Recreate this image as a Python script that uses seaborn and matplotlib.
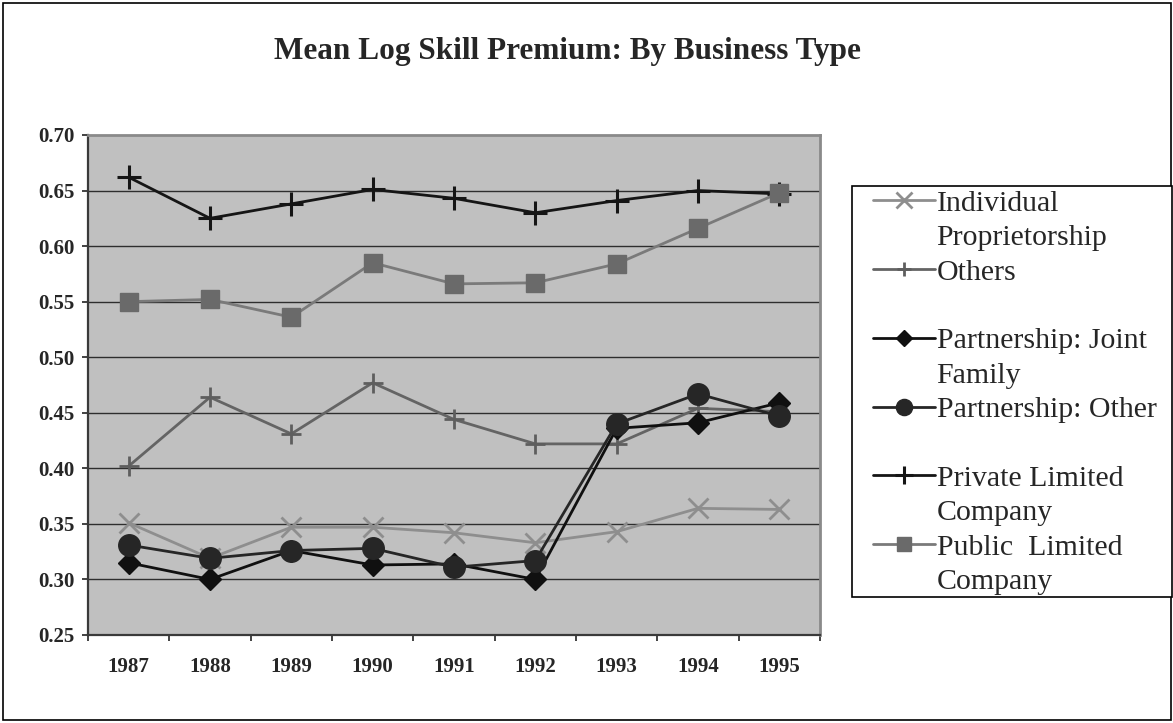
import matplotlib
matplotlib.use("Agg")
import matplotlib.pyplot as plt
from matplotlib.lines import Line2D
from matplotlib.patches import Rectangle
from matplotlib.ticker import FixedLocator, FormatStrFormatter
import numpy as np
import pandas as pd
import seaborn as sns

# ---- data -------------------------------------------------------------
years = [1987, 1988, 1989, 1990, 1991, 1992, 1993, 1994, 1995]

individual_proprietorship = [0.351, 0.319, 0.347, 0.347, 0.342, 0.333, 0.343, 0.364, 0.363]
others = [0.402, 0.464, 0.431, 0.477, 0.444, 0.422, 0.422, 0.454, 0.451]
partnership_joint_family = [0.315, 0.300, 0.326, 0.313, 0.314, 0.300, 0.436, 0.441, 0.459]
partnership_other = [0.331, 0.319, 0.326, 0.328, 0.311, 0.317, 0.440, 0.467, 0.447]
private_limited = [0.662, 0.625, 0.638, 0.651, 0.643, 0.630, 0.641, 0.650, 0.647]
public_limited = [0.550, 0.552, 0.536, 0.585, 0.566, 0.567, 0.584, 0.616, 0.648]

series_names = [
    "Individual Proprietorship",
    "Others",
    "Partnership: Joint Family",
    "Partnership: Other",
    "Private Limited Company",
    "Public  Limited Company",
]
legend_lines = [
    ("Individual", "Proprietorship"),
    ("Others", " "),
    ("Partnership: Joint", "Family"),
    ("Partnership: Other", " "),
    ("Private Limited", "Company"),
    ("Public  Limited", "Company"),
]
y_ticks = [0.25, 0.30, 0.35, 0.40, 0.45, 0.50, 0.55, 0.60, 0.65, 0.70]
title = "Mean Log Skill Premium: By Business Type"

values = [individual_proprietorship, others, partnership_joint_family,
          partnership_other, private_limited, public_limited]
df = pd.DataFrame({
    "year": np.tile(years, len(series_names)),
    "premium": np.concatenate(values),
    "type": np.repeat(series_names, len(years)),
})

# ---- styles per business type -------------------------------------------
styles = {
    "Individual Proprietorship": dict(color="#8e8e8e", marker="x", markersize=15, mew=2.0),
    "Others": dict(color="#5e5e5e", marker="+", markersize=14, mew=2.0),
    "Partnership: Joint Family": dict(color="#101010", marker="D", markersize=11.5, mew=1.0),
    "Partnership: Other": dict(color="#262626", marker="o", markersize=15.5, mew=1.0),
    "Private Limited Company": dict(color="#151515", marker="+", markersize=17, mew=2.2),
    "Public  Limited Company": dict(color="#6a6a6a", marker="s", markersize=13, mew=1.0),
}
line_colors = {
    "Individual Proprietorship": "#8e8e8e",
    "Others": "#646464",
    "Partnership: Joint Family": "#101010",
    "Partnership: Other": "#262626",
    "Private Limited Company": "#151515",
    "Public  Limited Company": "#7a7a7a",
}

sns.set_style("white")
plt.rcParams["font.family"] = ["Liberation Serif", "DejaVu Serif"]

W, H = 1173, 723
fig = plt.figure(figsize=(W / 100, H / 100), dpi=100)
ax = fig.add_axes([88 / W, 1 - 635 / H, (820 - 88) / W, (635 - 135) / H])
ax.set_facecolor("#c0c0c0")

# horizontal gridlines
for yv in y_ticks[1:-1]:
    ax.axhline(yv, color="#2e2e2e", lw=1.0, zorder=1)

handles = []
for name in series_names:
    st = styles[name]
    sub = df[df["type"] == name]
    sns.lineplot(data=sub, x="year", y="premium", ax=ax, legend=False,
                 color=line_colors[name], linewidth=2.0,
                 marker=st["marker"], markersize=st["markersize"],
                 markeredgewidth=st["mew"], markeredgecolor=st["color"],
                 markerfacecolor=st["color"], zorder=3)
    handles.append(Line2D([], [], color=line_colors[name], lw=2.0,
                          marker=st["marker"], markersize=st["markersize"] * 0.75,
                          markeredgewidth=st["mew"], markeredgecolor=st["color"],
                          markerfacecolor=st["color"]))

ax.set_xlim(years[0] - 0.5, years[-1] + 0.5)
ax.set_ylim(y_ticks[0], y_ticks[-1])
ax.set_xlabel("")
ax.set_ylabel("")

# axes: year labels centred, tick marks on category boundaries
ax.set_xticks(years)
ax.set_xticklabels([str(y) for y in years])
ax.xaxis.set_minor_locator(FixedLocator(np.arange(years[0] - 0.5, years[-1] + 1.0, 1.0)))
ax.tick_params(axis="x", which="major", length=0, pad=16, labelsize=15)
ax.tick_params(axis="x", which="minor", direction="out", length=4.5, width=1.2,
               color="#222222", bottom=True)
ax.set_yticks(y_ticks)
ax.yaxis.set_major_formatter(FormatStrFormatter("%.2f"))
ax.tick_params(axis="y", direction="out", length=4.5, width=1.2, color="#222222",
               pad=5, labelsize=15, left=True)
for lab in ax.get_xticklabels() + ax.get_yticklabels():
    lab.set_fontweight("bold")

for side in ["left", "bottom"]:
    ax.spines[side].set_color("#3a3a3a")
    ax.spines[side].set_linewidth(1.6)
for side in ["top", "right"]:
    ax.spines[side].set_color("#8a8a8a")
    ax.spines[side].set_linewidth(2.0)

# title
fig.text(567 / W, 1 - 52 / H, title, ha="center", va="center",
         fontsize=22.5, fontweight="bold")

# legend box
fig.patches.append(Rectangle((852 / W, 1 - 597 / H), (1172 - 852) / W, (597 - 186) / H,
                             transform=fig.transFigure, facecolor="white",
                             edgecolor="black", linewidth=1.2, zorder=2))

# legend entries: one row per text line, marker on each entry's first line
blank = Line2D([], [], linestyle="none")
leg_handles, leg_labels = [], []
for h, (first, second) in zip(handles, legend_lines):
    leg_handles += [h, blank]
    leg_labels += [first, second]

leg = fig.legend(leg_handles, leg_labels, loc="upper left",
                 bbox_to_anchor=(873 / W, 1 - 190 / H),
                 frameon=False, prop={"size": 21.5}, handlelength=2.07,
                 handletextpad=0.06, labelspacing=0.25, borderpad=0.0,
                 borderaxespad=0.0)
leg.set_zorder(3)

# outer border of the chart
fig.patches.append(Rectangle((3 / W, 3 / H), 1 - 5 / W, 1 - 6 / H,
                             transform=fig.transFigure, fill=False,
                             edgecolor="black", linewidth=1.2))

fig.savefig("out.png", dpi=100)
